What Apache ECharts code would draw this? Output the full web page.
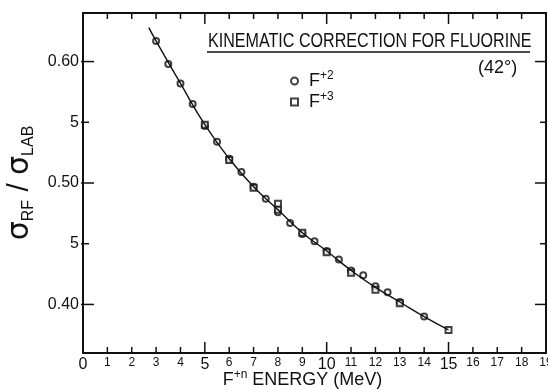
<!DOCTYPE html>
<html>
<head>
<meta charset="utf-8">
<script src="https://cdn.jsdelivr.net/npm/echarts@6/dist/echarts.min.js"></script>
<style>html,body{margin:0;background:#fff}#main{width:548px;height:390px}</style>
</head>
<body>
<div id="main"></div>
<script>
// values
var f2Energy = [3, 3.5, 4, 4.5, 5, 5.5, 6, 6.5, 7, 7.5, 8, 8.5, 9, 9.5, 10, 10.5, 11, 11.5, 12, 12.5, 13, 14];
var f2Ratio = [0.617, 0.598, 0.582, 0.565, 0.547, 0.534, 0.520, 0.509, 0.497, 0.487, 0.476, 0.467, 0.458, 0.452, 0.444, 0.437, 0.428, 0.424, 0.415, 0.410, 0.402, 0.390];
var f3Energy = [5, 6, 7, 8, 8, 9, 10, 11, 12, 13, 15];
var f3Ratio = [0.548, 0.519, 0.496, 0.483, 0.478, 0.459, 0.443, 0.426, 0.412, 0.401, 0.379];
var curveEnergy = [2.7, 3, 4, 5, 6, 7, 8, 9, 10, 11, 12, 13, 14, 15];
var curveRatio = [0.628, 0.617, 0.582, 0.548, 0.520, 0.497, 0.478, 0.459, 0.444, 0.428, 0.414, 0.402, 0.390, 0.379];
var xTicks = [0, 1, 2, 3, 4, 5, 6, 7, 8, 9, 10, 11, 12, 13, 14, 15, 16, 17, 18, 19];
var yTicks = [0.40, 0.45, 0.50, 0.55, 0.60];
var yTickLabels = ['0.40', '5', '0.50', '5', '0.60'];

var FONT = "'Liberation Sans', 'DejaVu Sans', sans-serif";
var INK = '#111';
var X_MIN = 0, X_MAX = 19, Y_MIN = 0.36, Y_MAX = 0.64;

function pairs(xs, ys) {
    return xs.map(function (x, i) { return [x, ys[i]]; });
}

var frameLine = {show: true, onZero: false, lineStyle: {color: INK, width: 2}};
var tickStyle = {stroke: INK, lineWidth: 1.5};

var chart = echarts.init(document.getElementById('main'));
chart.setOption({
    animation: false,
    textStyle: {fontFamily: FONT, color: INK},
    grid: {left: 83, right: 2, top: 13, bottom: 37, containLabel: false, outerBoundsMode: 'none'},
    graphic: [
        {type: 'text', x: 208, y: 31, scaleX: 0.805,
            style: {text: 'KINEMATIC CORRECTION FOR FLUORINE', font: '20px ' + FONT, fill: INK}},
        {type: 'line', shape: {x1: 207, y1: 52, x2: 530, y2: 52}, style: {stroke: INK, lineWidth: 1.5}},
        {type: 'text', x: 478, y: 59, style: {text: '(42°)', font: '18px ' + FONT, fill: INK}}
    ],
    legend: {
        data: ['F+2', 'F+3'],
        orient: 'vertical',
        left: 285, top: 65,
        itemWidth: 7, itemHeight: 7, itemGap: 0,
        formatter: function (name) { return 'F{sup|' + name.slice(1) + '}'; },
        textStyle: {
            fontFamily: FONT, fontSize: 18, color: INK, padding: [0, 0, 0, 6], lineHeight: 20,
            rich: {sup: {fontSize: 12, padding: [0, 0, 10, 0], fontFamily: FONT}}
        }
    },
    xAxis: [
        {
            type: 'value', min: X_MIN, max: X_MAX, interval: 1, position: 'bottom',
            axisLine: frameLine, axisTick: {show: false}, splitLine: {show: false},
            axisLabel: {
                margin: 4, color: INK,
                formatter: function (v) { return v % 5 === 0 ? '{b|' + v + '}' : '{s|' + v + '}'; },
                rich: {b: {fontSize: 16, fontFamily: FONT}, s: {fontSize: 12, fontFamily: FONT}}
            },
            name: 'F{sup|+n} ENERGY (MeV)', nameLocation: 'middle', nameGap: 16, nameMoveOverlap: false,
            nameTextStyle: {
                fontSize: 18, fontFamily: FONT, color: INK, padding: [0, 24, 0, 0],
                rich: {sup: {fontSize: 12, padding: [0, 0, 10, 0], fontFamily: FONT}}
            }
        },
        {type: 'value', min: X_MIN, max: X_MAX, position: 'top', axisLine: frameLine,
            axisTick: {show: false}, axisLabel: {show: false}, splitLine: {show: false}}
    ],
    yAxis: [
        {
            type: 'value', min: Y_MIN, max: Y_MAX, interval: 0.01, position: 'left',
            axisLine: frameLine, axisTick: {show: false}, splitLine: {show: false},
            axisLabel: {
                margin: 4, fontSize: 16, color: INK, fontFamily: FONT,
                formatter: function (v) {
                    for (var i = 0; i < yTicks.length; i++) {
                        if (Math.round(yTicks[i] * 100) === Math.round(v * 100)) return yTickLabels[i];
                    }
                    return '';
                }
            },
            name: '{s|σ}{sub|RF}{sl| / }{s|σ}{sub|LAB}', nameLocation: 'middle', nameRotate: 90, nameGap: 45,
            nameTextStyle: {
                color: INK, fontFamily: FONT,
                rich: {
                    s: {fontSize: 30, fontFamily: 'DejaVu Sans'},
                    sl: {fontSize: 30, fontFamily: FONT},
                    sub: {fontSize: 16, padding: [18, 0, 0, 0], fontFamily: FONT}
                }
            }
        },
        {type: 'value', min: Y_MIN, max: Y_MAX, position: 'right', axisLine: frameLine,
            axisTick: {show: false}, axisLabel: {show: false}, splitLine: {show: false}}
    ],
    series: [
        {
            // inward ticks on all four sides of the frame
            name: 'xTicks', type: 'custom', silent: true, z: 1,
            data: xTicks.map(function (v) { return [v, Y_MIN]; }),
            renderItem: function (params, api) {
                var v = api.value(0);
                var len = v % 5 === 0 ? 11 : 6;
                var b = api.coord([v, Y_MIN]);
                var t = api.coord([v, Y_MAX]);
                return {type: 'group', children: [
                    {type: 'line', shape: {x1: b[0], y1: b[1], x2: b[0], y2: b[1] - len}, style: tickStyle},
                    {type: 'line', shape: {x1: t[0], y1: t[1], x2: t[0], y2: t[1] + len}, style: tickStyle}
                ]};
            }
        },
        {
            name: 'yTicks', type: 'custom', silent: true, z: 1,
            data: yTicks.map(function (v) { return [X_MIN, v]; }),
            renderItem: function (params, api) {
                var len = params.dataIndex % 2 === 0 ? 11 : 6;
                var l = api.coord([X_MIN, api.value(1)]);
                var r = api.coord([X_MAX, api.value(1)]);
                return {type: 'group', children: [
                    {type: 'line', shape: {x1: l[0] - 2, y1: l[1], x2: l[0] + len, y2: l[1]}, style: tickStyle},
                    {type: 'line', shape: {x1: r[0] - len, y1: r[1], x2: r[0], y2: r[1]}, style: tickStyle}
                ]};
            }
        },
        {
            name: 'fit', type: 'line', smooth: true, showSymbol: false,
            data: pairs(curveEnergy, curveRatio),
            lineStyle: {color: INK, width: 1.4}
        },
        {
            name: 'F+2', type: 'scatter', symbol: 'emptyCircle', symbolSize: 6,
            itemStyle: {color: INK, borderColor: INK, borderWidth: 1.2},
            data: pairs(f2Energy, f2Ratio)
        },
        {
            name: 'F+3', type: 'scatter', symbol: 'emptyRect', symbolSize: 6,
            itemStyle: {color: INK, borderColor: INK, borderWidth: 1.2},
            data: pairs(f3Energy, f3Ratio)
        }
    ]
});
</script>
</body>
</html>
